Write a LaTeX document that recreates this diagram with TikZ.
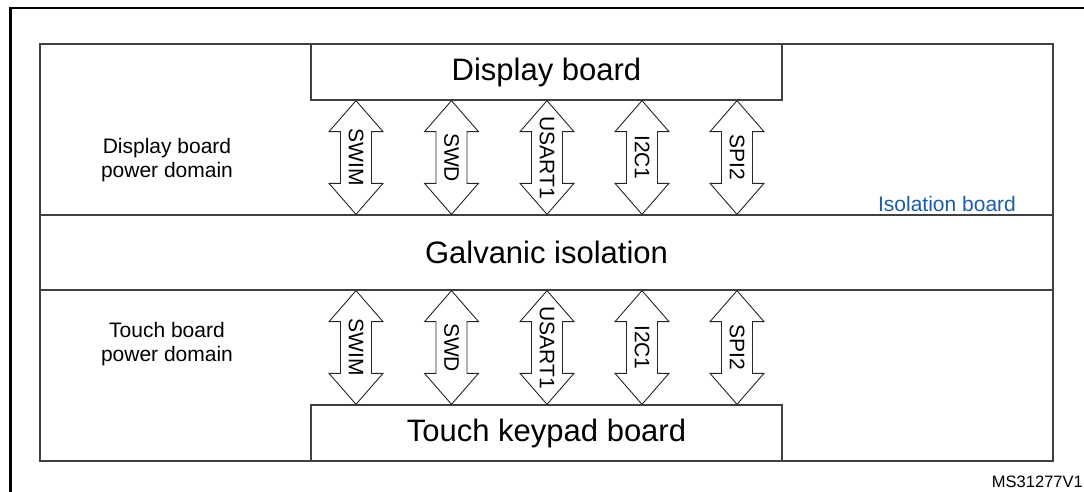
\documentclass[tikz,border=0pt]{standalone}
\usepackage{fontspec}
\setmainfont{Liberation Sans}
\usetikzlibrary{calc}
\definecolor{framegray}{HTML}{404040}
\definecolor{isoblue}{HTML}{1A5DA6}

% double-headed block arrow between two tip points (top, bottom)
\newcommand\busarrow[2]{%
  \draw[busarrowline] (#1) -- ++(-27,31) -- ++(11.5,0)
    -- ($(#2)+(-15.5,-31)$) -- ++(-11.5,0) -- (#2)
    -- ++(27,-31) -- ++(-11.5,0)
    -- ($(#1)+(15.5,31)$) -- ++(11.5,0) -- cycle;}

\begin{document}
\begin{tikzpicture}[x=1pt,y=-1pt,
  boxline/.style={draw=framegray, line width=1.3pt},
  board/.style={boxline, fill=white, minimum width=471pt, minimum height=56pt,
    inner sep=0pt, font=\fontsize{31}{36}\selectfont},
  band/.style={boxline, minimum width=1013pt, minimum height=75pt,
    inner sep=0pt, font=\fontsize{31}{36}\selectfont},
  buslabel/.style={font=\fontsize{21}{24}\selectfont, inner sep=0pt, rotate=-90},
  domainlabel/.style={font=\fontsize{21}{24}\selectfont, align=center, inner sep=0pt},
  busarrowline/.style={draw=black!85, line width=0.9pt, fill=white, line join=miter}]

\useasboundingbox (0,0) rectangle (1084,492);

% figure frame (top and left edges)
\draw[line width=2.5pt] (10.5,492) -- (10.5,8) -- (1084,8);

% isolation board outline
\node[boxline, minimum width=1013pt, minimum height=417pt, inner sep=0pt]
  (isoboard) at (546.5,252.5) {};

% galvanic isolation band
\node[band] (gal) at (546.5,252.5) {Galvanic isolation};

% the two boards
\node[board] (disp)  at (546.5,72)  {Display board};
\node[board] (touch) at (546.5,433) {Touch keypad board};

% bus arrows across both power domains
\foreach \x/\lbl [count=\i] in {356/SWIM, 451.5/SWD, 547/USART1, 642/I2C1, 737/SPI2}{
  \coordinate (col\i) at (\x,0);
  \coordinate (ut\i) at (col\i |- disp.south);
  \coordinate (ub\i) at (col\i |- gal.north);
  \coordinate (lt\i) at (col\i |- gal.south);
  \coordinate (lb\i) at (col\i |- touch.north);
  \busarrow{ut\i}{ub\i}
  \busarrow{lt\i}{lb\i}
  \node[buslabel] (up\i) at ($(ut\i)!0.5!(ub\i)$) {\lbl};
  \node[buslabel] (lo\i) at ($(lt\i)!0.5!(lb\i)$) {\lbl};
}

% domain labels
\node[domainlabel] (dpd) at (167,160) {Display board\\power domain};
\node[domainlabel] (tpd) at (167,344) {Touch board\\power domain};

\node[font=\fontsize{21}{24}\selectfont, text=isoblue, inner sep=0pt]
  (isolbl) at (947,204) {Isolation board};

\node[font=\fontsize{16.5}{20}\selectfont, anchor=base east, inner sep=0pt]
  (code) at (1083,487) {MS31277V1};

\end{tikzpicture}
\end{document}
